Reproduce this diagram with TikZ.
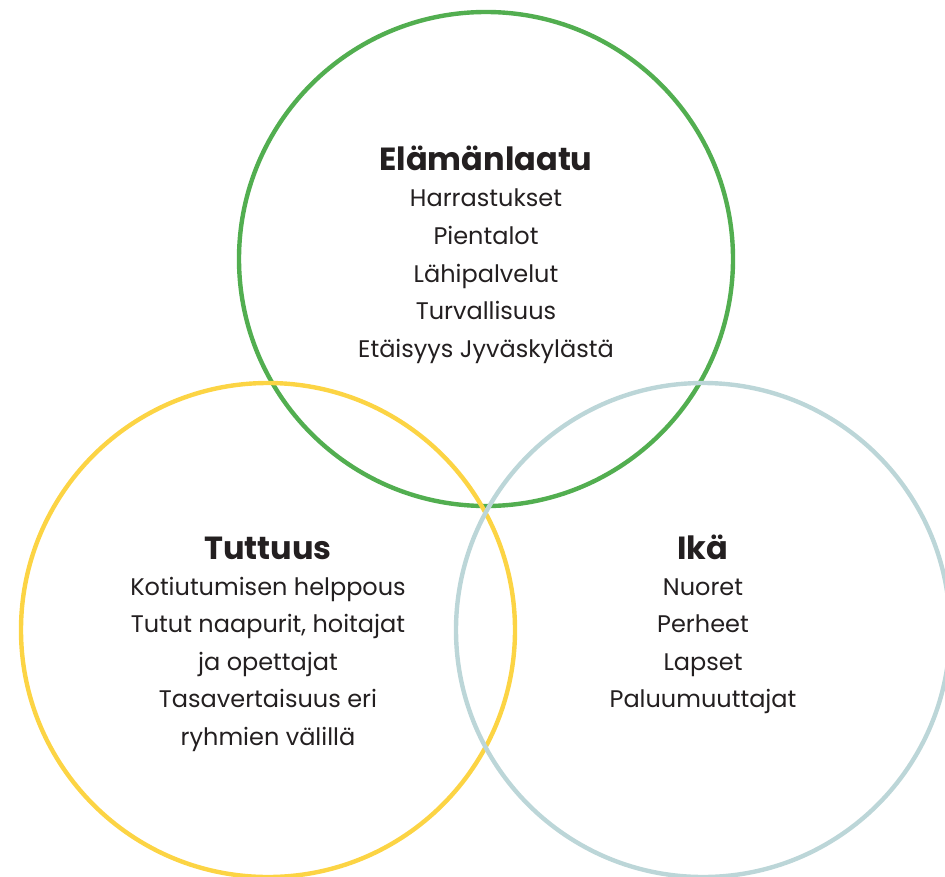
\documentclass[tikz,border=0pt]{standalone}
\usepackage{fontspec}
\setmainfont{Poppins}
\definecolor{cgreen}{HTML}{52AE50}
\definecolor{cyellow}{HTML}{FCD444}
\definecolor{cblue}{HTML}{BCD6D8}
\definecolor{ctext}{HTML}{231F20}
\begin{document}
\begin{tikzpicture}[x=0.75pt,y=-0.75pt,
  ring/.style={line width=3.3pt},
  head/.style={anchor=base,text=ctext,inner sep=0pt,font=\fontsize{24}{28}\selectfont\bfseries},
  item/.style={anchor=base,text=ctext,inner sep=0pt,font=\fontsize{18}{22}\selectfont}]
\useasboundingbox (0,0) rectangle (945,877);
\coordinate (cg) at (486,259);
\coordinate (cy) at (268,630);
\coordinate (cb) at (703,630);
\draw[ring,cgreen] (cg) circle[radius=185.25pt];
\draw[ring,cyellow] (cy) circle[radius=185.25pt];
\draw[ring,cblue] (cb) circle[radius=185.25pt];
% green
\node[head] (gh) at (486,171) {Elämänlaatu};
\foreach \t [count=\i] in {Harrastukset,Pientalot,Lähipalvelut,Turvallisuus,Etäisyys Jyväskylästä}
  \node[item] (g\i) at (486,{207+37.5*(\i-1)}) {\t};
% yellow
\node[head] (yh) at (268,559) {Tuttuus};
\foreach \t [count=\i] in {Kotiutumisen helppous,{Tutut naapurit, hoitajat},ja opettajat,Tasavertaisuus eri,ryhmien välillä}
  \node[item] (y\i) at (268,{595+37.5*(\i-1)}) {\t};
% blue
\node[head] (bh) at (703,559) {Ikä};
\foreach \t [count=\i] in {Nuoret,Perheet,Lapset,Paluumuuttajat}
  \node[item] (b\i) at (703,{595+37.5*(\i-1)}) {\t};
\end{tikzpicture}
\end{document}
